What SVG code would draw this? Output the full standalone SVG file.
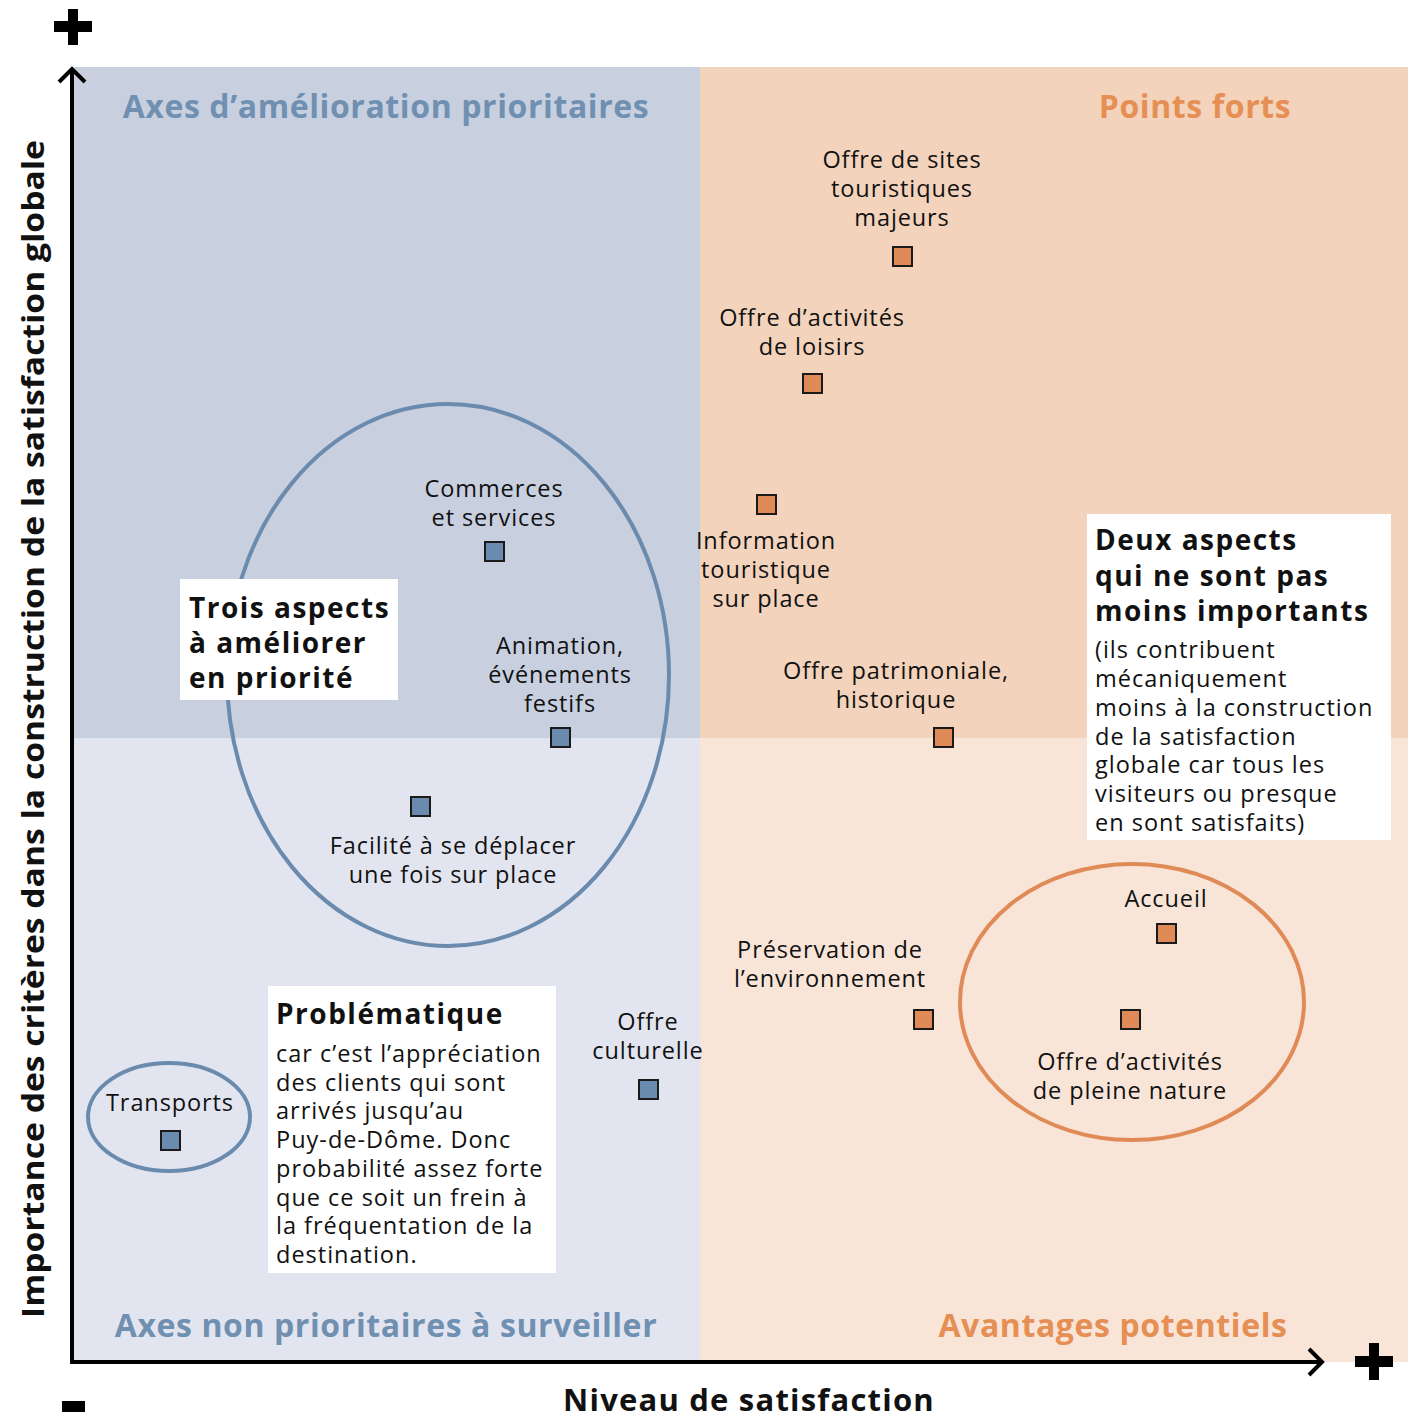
<svg xmlns="http://www.w3.org/2000/svg" width="1408" height="1419" viewBox="0 0 1408 1419">
<style>
text{font-family:"Open Sans","Liberation Sans",sans-serif;fill:#111}
.lbl{font-size:23.5px;letter-spacing:0.9px;text-anchor:middle}
.quad{font-size:32px;font-weight:700;letter-spacing:0.6px;text-anchor:middle}
.blueT{fill:#7090B2}
.orT{fill:#E68F55}
.bold{font-size:28px;font-weight:700;letter-spacing:1.5px}
.body{font-size:23.5px;letter-spacing:1px}
.sqB{fill:#6B8BAE;stroke:#1a1a1a;stroke-width:2}
.sqO{fill:#E08A57;stroke:#1a1a1a;stroke-width:2}
.box{fill:#fff}
.axis{stroke:#000;stroke-width:4;fill:none}
</style>
<rect width="1408" height="1419" fill="#fff"/>
<g id="quadrants">
<rect x="74" y="67" width="626" height="671" fill="#C8CFDF"/>
<rect x="700" y="67" width="708" height="671" fill="#F3D3BB"/>
<rect x="74" y="738" width="626" height="624" fill="#E2E5EF"/>
<rect x="700" y="738" width="708" height="624" fill="#F8E5D8"/>
<text class="quad blueT" x="386" y="118">Axes d’amélioration prioritaires</text>
<text class="quad orT" x="1195" y="118">Points forts</text>
<text class="quad blueT" x="386" y="1337">Axes non prioritaires à surveiller</text>
<text class="quad orT" x="1113" y="1337">Avantages potentiels</text>
</g>
<g id="axes">
<path class="axis" d="M72 1362 V69 M59 82 L72 69 L85 82"/>
<path class="axis" d="M70 1362 H1322 M1309 1349 L1322 1362 L1309 1375"/>
<path d="M68 9 h10 v12 h14 v11 h-14 v13 h-10 v-13 h-14 v-11 h14z" fill="#000"/>
<path d="M1369 1343 h10 v13 h14 v11 h-14 v13 h-10 v-13 h-14 v-11 h14z" fill="#000"/>
<rect x="62" y="1401" width="23" height="11" fill="#000"/>
<text x="0" y="0" transform="translate(44 1318) rotate(-90)" font-size="30" font-weight="700" textLength="1178" lengthAdjust="spacingAndGlyphs">Importance des critères dans la construction de la satisfaction globale</text>
<text x="749" y="1411" font-size="31" font-weight="700" letter-spacing="1.2" text-anchor="middle">Niveau de satisfaction</text>
</g>
<g id="groups">
<ellipse cx="448" cy="675" rx="221" ry="271" fill="none" stroke="#6B8BAE" stroke-width="4"/>
<ellipse cx="169" cy="1117" rx="81" ry="54" fill="none" stroke="#6B8BAE" stroke-width="4"/>
<ellipse cx="1132" cy="1002" rx="172" ry="138" fill="none" stroke="#E08A57" stroke-width="4"/>
</g>
<g id="connectors"></g>
<g id="n-sites">
<text class="lbl" x="902" y="168">Offre de sites</text>
<text class="lbl" x="902" y="197">touristiques</text>
<text class="lbl" x="902" y="226">majeurs</text>
<rect class="sqO" x="893" y="247" width="19" height="19"/>
</g>
<g id="n-loisirs">
<text class="lbl" x="812" y="326">Offre d’activités</text>
<text class="lbl" x="812" y="355">de loisirs</text>
<rect class="sqO" x="803" y="374" width="19" height="19"/>
</g>
<g id="n-info">
<rect class="sqO" x="757" y="495" width="19" height="19"/>
<text class="lbl" x="766" y="549">Information</text>
<text class="lbl" x="766" y="578">touristique</text>
<text class="lbl" x="766" y="607">sur place</text>
</g>
<g id="n-patrimoine">
<text class="lbl" x="896" y="679">Offre patrimoniale,</text>
<text class="lbl" x="896" y="708">historique</text>
<rect class="sqO" x="934" y="728" width="19" height="19"/>
</g>
<g id="n-commerces">
<text class="lbl" x="494" y="497">Commerces</text>
<text class="lbl" x="494" y="526">et services</text>
<rect class="sqB" x="485" y="542" width="19" height="19"/>
</g>
<g id="n-animation">
<text class="lbl" x="560" y="654">Animation,</text>
<text class="lbl" x="560" y="683">événements</text>
<text class="lbl" x="560" y="712">festifs</text>
<rect class="sqB" x="551" y="728" width="19" height="19"/>
</g>
<g id="n-facilite">
<rect class="sqB" x="411" y="797" width="19" height="19"/>
<text class="lbl" x="453" y="854">Facilité à se déplacer</text>
<text class="lbl" x="453" y="883">une fois sur place</text>
</g>
<g id="n-environnement">
<text class="lbl" x="830" y="958">Préservation de</text>
<text class="lbl" x="830" y="987">l’environnement</text>
<rect class="sqO" x="914" y="1010" width="19" height="19"/>
</g>
<g id="n-accueil">
<text class="lbl" x="1166" y="907">Accueil</text>
<rect class="sqO" x="1157" y="924" width="19" height="19"/>
</g>
<g id="n-nature">
<rect class="sqO" x="1121" y="1010" width="19" height="19"/>
<text class="lbl" x="1130" y="1070">Offre d’activités</text>
<text class="lbl" x="1130" y="1099">de pleine nature</text>
</g>
<g id="n-culture">
<text class="lbl" x="648" y="1030">Offre</text>
<text class="lbl" x="648" y="1059">culturelle</text>
<rect class="sqB" x="639" y="1080" width="19" height="19"/>
</g>
<g id="n-transports">
<text class="lbl" x="170" y="1111">Transports</text>
<rect class="sqB" x="161" y="1131" width="19" height="19"/>
</g>
<g id="box-trois">
<rect class="box" x="180" y="579" width="218" height="121"/>
<text class="bold" x="189" y="618">Trois aspects</text>
<text class="bold" x="189" y="653">à améliorer</text>
<text class="bold" x="189" y="688">en priorité</text>
</g>
<g id="box-deux">
<rect class="box" x="1087" y="514" width="304" height="326"/>
<text class="bold" x="1095" y="550">Deux aspects</text>
<text class="bold" x="1095" y="586">qui ne sont pas</text>
<text class="bold" x="1095" y="621">moins importants</text>
<text class="body" x="1095" y="658">(ils contribuent</text>
<text class="body" x="1095" y="687">mécaniquement</text>
<text class="body" x="1095" y="716">moins à la construction</text>
<text class="body" x="1095" y="745">de la satisfaction</text>
<text class="body" x="1095" y="773">globale car tous les</text>
<text class="body" x="1095" y="802">visiteurs ou presque</text>
<text class="body" x="1095" y="831">en sont satisfaits)</text>
</g>
<g id="box-problematique">
<rect class="box" x="268" y="986" width="288" height="287"/>
<text class="bold" x="276" y="1024">Problématique</text>
<text class="body" x="276" y="1062">car c’est l’appréciation</text>
<text class="body" x="276" y="1091">des clients qui sont</text>
<text class="body" x="276" y="1119">arrivés jusqu’au</text>
<text class="body" x="276" y="1148">Puy-de-Dôme. Donc</text>
<text class="body" x="276" y="1177">probabilité assez forte</text>
<text class="body" x="276" y="1206">que ce soit un frein à</text>
<text class="body" x="276" y="1234">la fréquentation de la</text>
<text class="body" x="276" y="1263">destination.</text>
</g>
</svg>
